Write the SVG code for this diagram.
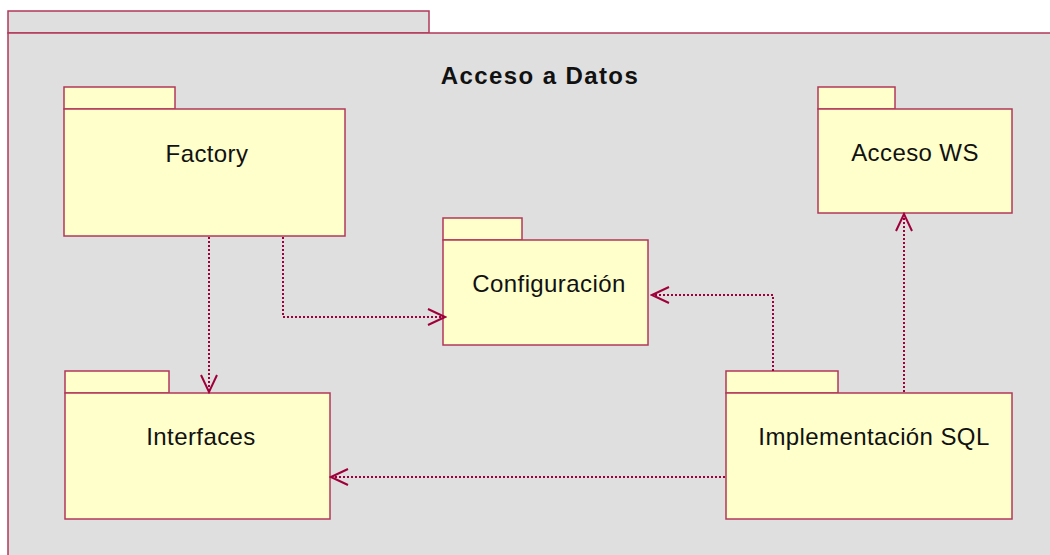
<svg xmlns="http://www.w3.org/2000/svg" width="1050" height="555" viewBox="0 0 1050 555">
  <style>
    .frame { fill: #dfdfdf; stroke: #b2385a; stroke-width: 1.5; }
    .pkg { fill: #ffffcc; stroke: #b2385a; stroke-width: 1.5; }
    .label { font-family: "Liberation Sans", Arial, sans-serif; font-size: 24px; fill: #111; text-anchor: middle; letter-spacing: 0.4px; }
    .title { font-family: "Liberation Sans", Arial, sans-serif; font-size: 24px; font-weight: bold; fill: #111; text-anchor: middle; letter-spacing: 1.4px; }
    .dep { fill: none; stroke: #a0003a; stroke-width: 2; stroke-dasharray: 2 2; }
    .head { fill: none; stroke: #a0003a; stroke-width: 2; }
  </style>
  <defs>
    <marker id="open-arrow" viewBox="0 0 20 20" refX="18" refY="10" markerWidth="20" markerHeight="20" markerUnits="userSpaceOnUse" orient="auto">
      <path class="head" d="M1 2 L18 10 L1 18"/>
    </marker>
  </defs>

  <!-- enclosing package -->
  <g id="acceso-a-datos">
    <rect class="frame" x="8" y="11" width="421" height="22"/>
    <rect class="frame" x="8" y="33" width="1060" height="540"/>
    <text class="title" x="540" y="84">Acceso a Datos</text>
  </g>

  <g id="factory">
    <rect class="pkg" x="64" y="87" width="111" height="22"/>
    <rect class="pkg" x="64" y="109" width="281" height="127"/>
    <text class="label" x="207" y="162">Factory</text>
  </g>

  <g id="configuracion">
    <rect class="pkg" x="443" y="218" width="79" height="22"/>
    <rect class="pkg" x="443" y="240" width="205" height="105"/>
    <text class="label" x="549" y="292">Configuración</text>
  </g>

  <g id="acceso-ws">
    <rect class="pkg" x="818" y="87" width="77" height="22"/>
    <rect class="pkg" x="818" y="109" width="194" height="104"/>
    <text class="label" x="915" y="161">Acceso WS</text>
  </g>

  <g id="interfaces">
    <rect class="pkg" x="65" y="371" width="104" height="22"/>
    <rect class="pkg" x="65" y="393" width="265" height="126"/>
    <text class="label" x="201" y="445">Interfaces</text>
  </g>

  <g id="implementacion-sql">
    <rect class="pkg" x="726" y="371" width="112" height="22"/>
    <rect class="pkg" x="726" y="393" width="286" height="126"/>
    <text class="label" x="874" y="445">Implementación SQL</text>
  </g>

  <!-- dependencies -->
  <g id="connectors">
    <path class="dep" d="M209 237 L209 392" marker-end="url(#open-arrow)"/>
    <path class="dep" d="M283 237 L283 317 L445 317" marker-end="url(#open-arrow)"/>
    <path class="dep" d="M773 371 L773 295 L652 295" marker-end="url(#open-arrow)"/>
    <path class="dep" d="M904 392 L904 214" marker-end="url(#open-arrow)"/>
    <path class="dep" d="M725 477 L331 477" marker-end="url(#open-arrow)"/>
  </g>
</svg>
